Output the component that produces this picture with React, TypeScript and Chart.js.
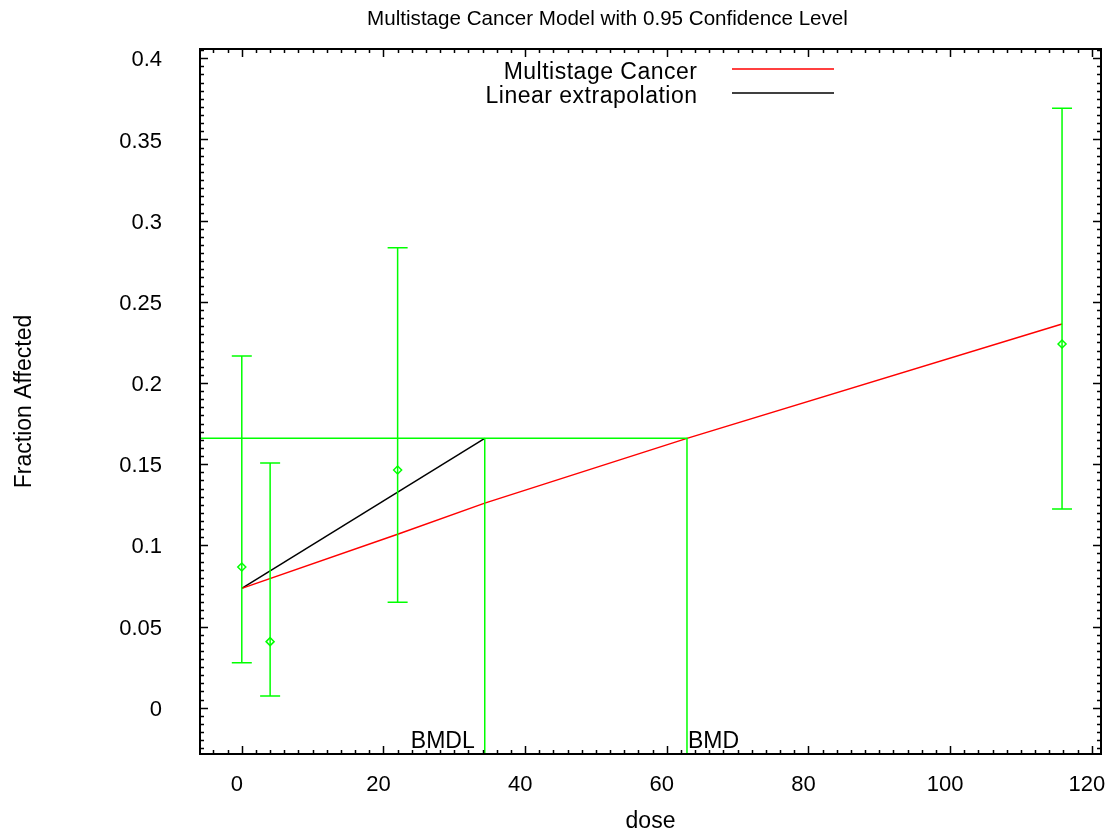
import React, { useEffect, useRef } from "react";
import { Chart, registerables } from "chart.js";

Chart.register(...registerables);

// Observed dose groups with 95% confidence limits
const doses = [0, 4, 22, 115.8];
const fractionAffected = [0.0867, 0.0407, 0.1464, 0.224];
const lowerLimits = [0.0277, 0.0072, 0.065, 0.1224];
const upperLimits = [0.2166, 0.1507, 0.2833, 0.3692];

// Fitted multistage cancer curve
const modelDoses = [0, 22, 34.3, 62.85, 115.8];
const modelFractions = [0.0735, 0.1068, 0.126, 0.1659, 0.2363];

// Benchmark dose results
const bmdl = 34.3;
const bmd = 62.85;
const bmrLevel = 0.1659;

// Linear extrapolation from background to the BMDL
const extrapolationDoses = [0, bmdl];
const extrapolationFractions = [0.0735, bmrLevel];

// Axis ranges and ticks
const xRange = [-5.9, 121.3];
const yRange = [-0.0285, 0.4057];
const xTickValues = [0, 20, 40, 60, 80, 100, 120];
const yTickValues = [0, 0.05, 0.1, 0.15, 0.2, 0.25, 0.3, 0.35, 0.4];
const xTickLabels = ["0", "20", "40", "60", "80", "100", "120"];
const yTickLabels = ["0", "0.05", "0.1", "0.15", "0.2", "0.25", "0.3", "0.35", "0.4"];
const xMinorStep = 2;
const yMinorStep = 0.005;

const chartTitle = "Multistage Cancer Model with 0.95 Confidence Level";
const FONT = "'Liberation Sans', Arial, sans-serif";
const GREEN = "#00ff00";

const framePlugin = {
  id: "frameTicks",
  afterDatasetsDraw(chart: any) {
    const { ctx, chartArea, scales } = chart;
    const x = scales.x;
    const y = scales.y;
    ctx.save();

    // error bars
    ctx.strokeStyle = GREEN;
    ctx.lineWidth = 1.5;
    doses.forEach((d, i) => {
      const px = x.getPixelForValue(d);
      const lo = y.getPixelForValue(lowerLimits[i]);
      const hi = y.getPixelForValue(upperLimits[i]);
      ctx.beginPath();
      ctx.moveTo(px, lo);
      ctx.lineTo(px, hi);
      ctx.moveTo(px - 10, lo);
      ctx.lineTo(px + 10, lo);
      ctx.moveTo(px - 10, hi);
      ctx.lineTo(px + 10, hi);
      ctx.stroke();
    });

    // frame
    const { left, right, top, bottom } = chartArea;
    ctx.strokeStyle = "#000";
    ctx.lineWidth = 2;
    ctx.strokeRect(left, top, right - left, bottom - top);

    // inward ticks on all four sides
    ctx.lineWidth = 1.5;
    ctx.beginPath();
    const xStart = Math.ceil(xRange[0] / xMinorStep) * xMinorStep;
    for (let v = xStart; v <= xRange[1] + 1e-9; v += xMinorStep) {
      const major = xTickValues.some((t) => Math.abs(t - v) < 1e-6);
      const len = major ? 8 : 4;
      const px = Math.round(x.getPixelForValue(v)) + 0.5;
      ctx.moveTo(px, bottom);
      ctx.lineTo(px, bottom - len);
      ctx.moveTo(px, top);
      ctx.lineTo(px, top + len);
    }
    const yStart = Math.ceil(yRange[0] / yMinorStep) * yMinorStep;
    for (let v = yStart; v <= yRange[1] + 1e-9; v += yMinorStep) {
      const major = yTickValues.some((t) => Math.abs(t - v) < 1e-6);
      const len = major ? 8 : 4;
      const py = Math.round(y.getPixelForValue(v)) + 0.5;
      ctx.moveTo(left, py);
      ctx.lineTo(left + len, py);
      ctx.moveTo(right, py);
      ctx.lineTo(right - len, py);
    }
    ctx.stroke();
    ctx.restore();
  },
  afterDraw(chart: any) {
    const { ctx, scales, data } = chart;
    const x = scales.x;
    ctx.save();
    ctx.fillStyle = "#000";

    // title
    ctx.font = `20.6px ${FONT}`;
    ctx.textAlign = "center";
    ctx.textBaseline = "alphabetic";
    ctx.fillText(chartTitle, 607.5, 25);

    // legend
    ctx.font = `23px ${FONT}`;
    (ctx as any).letterSpacing = "0.5px";
    ctx.textAlign = "right";
    const legendSets = data.datasets.filter((ds: any) => ds.inLegend);
    legendSets.forEach((ds: any, i: number) => {
      const base = 79 + i * 24;
      ctx.fillStyle = "#000";
      ctx.fillText(ds.label, 697.5, base);
      ctx.strokeStyle = ds.borderColor;
      ctx.lineWidth = 1.5;
      ctx.beginPath();
      ctx.moveTo(732, base - 10);
      ctx.lineTo(834, base - 10);
      ctx.stroke();
    });

    // BMD markers
    (ctx as any).letterSpacing = "0px";
    ctx.font = `23px ${FONT}`;
    ctx.fillStyle = "#000";
    ctx.textAlign = "right";
    ctx.fillText("BMDL", x.getPixelForValue(bmdl) - 10, 748);
    ctx.textAlign = "left";
    ctx.fillText("BMD", x.getPixelForValue(bmd) + 1, 748);
    ctx.restore();
  },
};

export default function App() {
  const canvasRef = useRef<HTMLCanvasElement>(null);

  useEffect(() => {
    const canvas = canvasRef.current;
    if (!canvas) return;

    const toPoints = (xs: number[], ys: number[]) => xs.map((v, i) => ({ x: v, y: ys[i] }));

    const chart = new Chart(canvas, {
      type: "scatter",
      data: {
        datasets: [
          {
            label: "BMR",
            data: [
              { x: xRange[0], y: bmrLevel },
              { x: bmd, y: bmrLevel },
              { x: bmd, y: yRange[0] },
            ],
            showLine: true,
            borderColor: GREEN,
            borderWidth: 1.5,
            pointRadius: 0,
          },
          {
            label: "BMDL",
            data: [
              { x: bmdl, y: bmrLevel },
              { x: bmdl, y: yRange[0] },
            ],
            showLine: true,
            borderColor: GREEN,
            borderWidth: 1.5,
            pointRadius: 0,
          },
          {
            label: "Multistage Cancer",
            inLegend: true,
            data: toPoints(modelDoses, modelFractions),
            showLine: true,
            borderColor: "#ff0000",
            borderWidth: 1.5,
            pointRadius: 0,
          } as any,
          {
            label: "Linear extrapolation",
            inLegend: true,
            data: toPoints(extrapolationDoses, extrapolationFractions),
            showLine: true,
            borderColor: "#000000",
            borderWidth: 1.5,
            pointRadius: 0,
          } as any,
          {
            label: "Observed",
            data: toPoints(doses, fractionAffected),
            showLine: false,
            pointStyle: "rectRot",
            pointRadius: 4,
            borderColor: GREEN,
            backgroundColor: "rgba(0,0,0,0)",
            pointBorderWidth: 1.5,
          },
        ],
      },
      options: {
        responsive: false,
        animation: false,
        layout: { padding: { top: 49, right: 8, left: 0, bottom: 0 } },
        plugins: {
          legend: { display: false },
          title: { display: false },
          tooltip: { enabled: false },
        },
        scales: {
          x: {
            type: "linear",
            position: "bottom",
            min: xRange[0],
            max: xRange[1],
            grid: { display: false, drawTicks: false, tickLength: 0 },
            border: { display: false },
            ticks: {
              color: "#000",
              font: { family: FONT, size: 22 },
              padding: 18,
              labelOffset: -5,
              autoSkip: false,
              maxRotation: 0,
              callback: (value: any) => {
                const i = xTickValues.findIndex((t) => Math.abs(t - Number(value)) < 1e-9);
                return i >= 0 ? xTickLabels[i] : "";
              },
            },
            afterBuildTicks: (scale: any) => {
              scale.ticks = xTickValues.map((value) => ({ value }));
            },
            afterFit: (scale: any) => {
              scale.height = 81;
              scale.paddingLeft = 0;
              scale.paddingRight = 0;
            },
            title: {
              display: true,
              text: "dose",
              color: "#000",
              font: { family: FONT, size: 23 },
              padding: { top: 0, bottom: 0 },
            },
          },
          y: {
            type: "linear",
            position: "left",
            min: yRange[0],
            max: yRange[1],
            grid: { display: false, drawTicks: false, tickLength: 0 },
            border: { display: false },
            ticks: {
              color: "#000",
              font: { family: FONT, size: 22 },
              padding: 38,
              labelOffset: 2,
              autoSkip: false,
              callback: (value: any) => {
                const i = yTickValues.findIndex((t) => Math.abs(t - Number(value)) < 1e-9);
                return i >= 0 ? yTickLabels[i] : "";
              },
            },
            afterBuildTicks: (scale: any) => {
              scale.ticks = yTickValues.map((value) => ({ value }));
            },
            afterFit: (scale: any) => {
              scale.width = 200;
              scale.paddingTop = 0;
              scale.paddingBottom = 0;
            },
            title: {
              display: true,
              text: "Fraction Affected",
              color: "#000",
              font: { family: FONT, size: 23 },
              padding: { top: 11, bottom: 0 },
            },
          },
        },
      },
      plugins: [framePlugin],
    } as any);

    return () => chart.destroy();
  }, []);

  return (
    <div style={{ position: "fixed", left: 0, top: 0, width: 1109, height: 835, background: "#fff" }}>
      <canvas ref={canvasRef} width={1109} height={835} style={{ display: "block" }} />
    </div>
  );
}
